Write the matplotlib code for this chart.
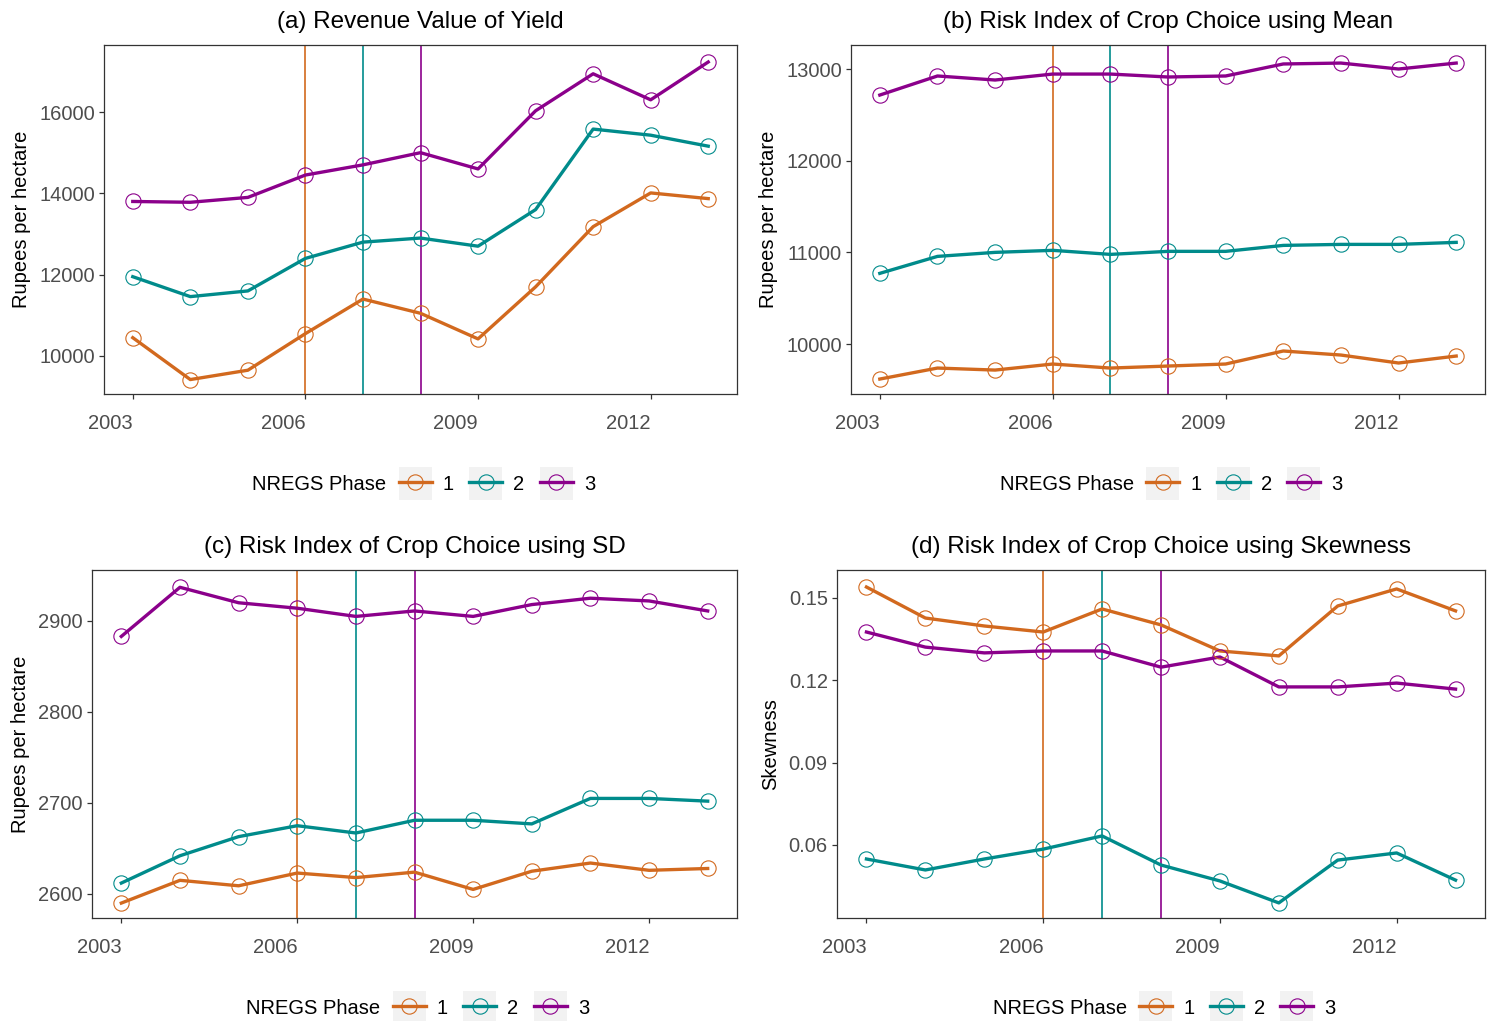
import matplotlib
matplotlib.use('Agg')
from matplotlib import pyplot as plt
from matplotlib.legend_handler import HandlerLine2D
from matplotlib.patches import Rectangle
from matplotlib.lines import Line2D
import numpy as np

plt.rcParams['font.family'] = ['Liberation Sans', 'DejaVu Sans']

years = [2003, 2004, 2005, 2006, 2007, 2008, 2009, 2010, 2011, 2012, 2013]
phases = ['1', '2', '3']
phase_start = [2006, 2007, 2008]
colors = ['#D2691E', '#008B8B', '#8B008B']

# (a) Revenue Value of Yield
rev_p1 = [10450, 9420, 9650, 10550, 11400, 11050, 10420, 11700, 13180, 14010, 13870]
rev_p2 = [11950, 11460, 11600, 12400, 12800, 12900, 12700, 13600, 15580, 15430, 15160]
rev_p3 = [13800, 13780, 13900, 14450, 14700, 15000, 14600, 16030, 16940, 16300, 17230]

# (b) Risk index using mean
mean_p1 = [9618, 9738, 9716, 9782, 9738, 9760, 9782, 9924, 9880, 9793, 9869]
mean_p2 = [10771, 10956, 11000, 11022, 10978, 11011, 11011, 11076, 11087, 11087, 11109]
mean_p3 = [12716, 12924, 12880, 12945, 12945, 12913, 12924, 13055, 13065, 13000, 13065]

# (c) Risk index using SD
sd_p1 = [2590, 2615, 2609, 2623, 2618, 2624, 2605, 2625, 2634, 2626, 2628]
sd_p2 = [2612, 2642, 2663, 2675, 2667, 2681, 2681, 2677, 2705, 2705, 2702]
sd_p3 = [2883, 2937, 2920, 2914, 2905, 2911, 2905, 2918, 2925, 2922, 2911]

# (d) Risk index using skewness
sk_p1 = [0.1540, 0.1427, 0.1398, 0.1376, 0.1460, 0.1402, 0.1307, 0.1289, 0.1471, 0.1533, 0.1453]
sk_p2 = [0.0549, 0.0509, 0.0549, 0.0585, 0.0633, 0.0527, 0.0469, 0.0389, 0.0545, 0.0571, 0.0472]
sk_p3 = [0.1376, 0.1321, 0.1300, 0.1307, 0.1307, 0.1248, 0.1285, 0.1176, 0.1176, 0.1190, 0.1168]

W, H = 1497, 1021
fig = plt.figure(figsize=(W / 100, H / 100), dpi=100)


class KeyHandler(HandlerLine2D):
    # grey square behind each legend key, like ggplot
    def create_artists(self, legend, orig_handle, xdescent, ydescent,
                       width, height, fontsize, trans):
        arts = super().create_artists(legend, orig_handle, xdescent, ydescent,
                                      width, height, fontsize, trans)
        bg = Rectangle((-xdescent, -ydescent + height / 2 - width / 2), width, width,
                       facecolor='#F2F2F2', edgecolor='none', transform=trans)
        return [bg] + list(arts)


def panel(box, title, series, yticks, ylim, ylabel, fmt):
    l, t, r, b = box
    ax = fig.add_axes([l / W, 1 - b / H, (r - l) / W, (b - t) / H])
    for vals, c in zip(series, colors):
        ax.plot(years, vals, color=c, lw=2.4, zorder=3)
        ax.plot(years, vals, ls='none', marker='o', ms=11, mfc='none',
                mec=c, mew=0.8, zorder=4)
    for x, c in zip(phase_start, colors):
        ax.axvline(x, color=c, lw=1.2, zorder=2)
    ax.set_xlim(2002.5, 2013.5)
    ax.set_ylim(*ylim)
    ax.set_xticks([2003, 2006, 2009, 2012])
    ax.set_xticklabels(['2003', '2006', '2009', '2012'], ha='right')
    ax.set_yticks(yticks)
    ax.set_yticklabels([fmt(v) for v in yticks])
    ax.tick_params(axis='both', colors='#333333', labelcolor='#4D4D4D',
                   labelsize=14.5, length=3.6, width=0.9)
    ax.tick_params(axis='x', pad=10.5)
    ax.tick_params(axis='y', pad=3)
    for s in ax.spines.values():
        s.set_color('#333333')
        s.set_linewidth(0.9)
    ax.set_ylabel(ylabel, fontsize=14.5, color='black', labelpad=6)
    ax.set_title(title, fontsize=17.5, pad=12)

    # legend below the panel, title on the left
    cx = (l + r) / 2
    ly = 1 - (b + 90) / H
    handles = [Line2D([], [], color=c, lw=2.4, marker='o', ms=11, mfc='none',
                      mec=c, mew=0.8) for c in colors]
    fig.legend(handles, phases, loc='center left',
               bbox_to_anchor=((cx - 22) / W, ly), ncol=3, frameon=False,
               fontsize=14.5, handlelength=1.65, handleheight=1.1,
               handletextpad=0.55, columnspacing=0.75, borderpad=0,
               borderaxespad=0,
               handler_map={Line2D: KeyHandler()})
    fig.text((cx - 34) / W, ly, 'NREGS Phase', ha='right', va='center',
             fontsize=14.5)
    return ax


panel((104, 45, 737, 394), '(a) Revenue Value of Yield',
      [rev_p1, rev_p2, rev_p3], [10000, 12000, 14000, 16000], (9065, 17648),
      'Rupees per hectare', lambda v: '%d' % v)
panel((851, 45, 1485, 394), '(b) Risk Index of Crop Choice using Mean',
      [mean_p1, mean_p2, mean_p3], [10000, 11000, 12000, 13000], (9455, 13262),
      'Rupees per hectare', lambda v: '%d' % v)
panel((92, 570, 737, 918), '(c) Risk Index of Crop Choice using SD',
      [sd_p1, sd_p2, sd_p3], [2600, 2700, 2800, 2900], (2573.6, 2956),
      'Rupees per hectare', lambda v: '%d' % v)
panel((837, 570, 1485, 918), '(d) Risk Index of Crop Choice using Skewness',
      [sk_p1, sk_p2, sk_p3], [0.06, 0.09, 0.12, 0.15], (0.0334, 0.1602),
      'Skewness', lambda v: '%.2f' % v)

plt.savefig('out.png', dpi=100)
print("out.png saved")
